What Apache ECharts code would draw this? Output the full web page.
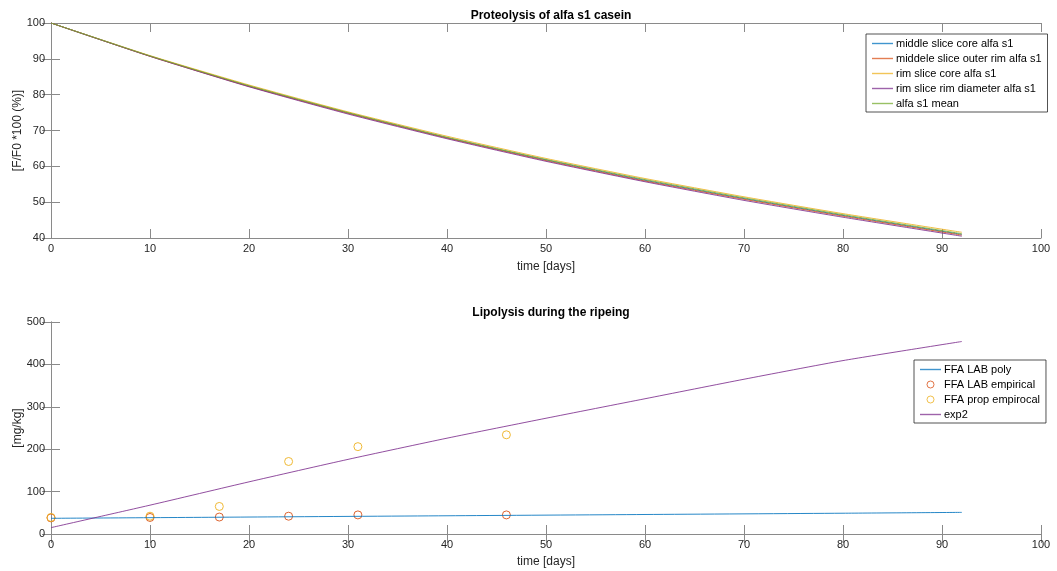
<!DOCTYPE html>
<html>
<head>
<meta charset="utf-8">
<script src="https://cdn.jsdelivr.net/npm/echarts@6/dist/echarts.min.js"></script>
<style>html,body{margin:0;padding:0;background:#fff}#c{width:1057px;height:571px}</style>
</head>
<body>
<div id="c"></div>
<script>
// ---- Top chart: proteolysis of alfa s1 casein ----
const protDays = [0, 10, 20, 30, 40, 50, 60, 70, 80, 92];
const middleCore  = [100, 90.8, 82.4, 74.9, 68.0, 61.8, 56.1, 51.0, 46.3, 41.0];
const middleOuter = [100, 90.7, 82.3, 74.8, 67.9, 61.6, 55.9, 50.8, 46.1, 40.8];
const rimCore     = [100, 90.9, 82.7, 75.2, 68.4, 62.2, 56.6, 51.5, 46.8, 41.6];
const rimDiameter = [100, 90.7, 82.2, 74.6, 67.7, 61.4, 55.7, 50.5, 45.8, 40.5];
const alfaMean    = [100, 90.8, 82.5, 75.0, 68.1, 61.9, 56.3, 51.2, 46.5, 41.2];

// ---- Bottom chart: lipolysis ----
const empDays = [0, 10, 17, 24, 31, 46];
const ffaLabEmp  = [38, 39, 40, 42, 45, 45];
const ffaPropEmp = [39, 42, 65, 171, 206, 234];
const polyDays = [0, 20, 40, 60, 80, 92];
const ffaLabPoly = [37, 40, 43, 46, 49, 51];
const expDays = [0, 10, 20, 30, 40, 50, 60, 70, 80, 92];
const exp2Vals = [15, 68, 123, 176, 226, 273, 319, 365, 409, 454];

const xTicks = [0, 10, 20, 30, 40, 50, 60, 70, 80, 90, 100];

const C = {blue:'#0072BD', red:'#D95319', yellow:'#EDB120', purple:'#7E2F8E', green:'#77AC30'};
const FONT = 'Liberation Sans, Arial, Helvetica, sans-serif';
const AX = '#8a8a8a';
const TXT = '#262626';

function pairs(xs, ys){ return xs.map((x,i)=>[x, ys[i]]); }

function mainX(gi){
  return {gridIndex:gi, type:'value', min:0, max:100, interval:10,
    name:'time [days]', nameLocation:'middle', nameGap:gi===0?23:22, nameMoveOverlap:false,
    nameTextStyle:{color:TXT, fontSize:12, fontFamily:FONT},
    axisLine:{show:true, lineStyle:{color:AX}},
    axisTick:{show:true, inside:true, length:9, lineStyle:{color:AX}},
    axisLabel:{color:TXT, fontSize:11, fontFamily:FONT, margin:5, formatter:v=>xTicks.includes(v)?String(v):''},
    splitLine:{show:false}};
}
function boxX(gi){
  return {gridIndex:gi, type:'value', min:0, max:100, interval:10, position:'top',
    axisLine:{show:true, lineStyle:{color:AX}},
    axisTick:{show:true, inside:true, length:9, lineStyle:{color:AX}},
    axisLabel:{show:false}, splitLine:{show:false}};
}
function mainY(gi, min, max, interval, name, gap){
  return {gridIndex:gi, type:'value', min:min, max:max, interval:interval,
    name:name, nameLocation:'middle', nameGap:gap, nameRotate:90, nameMoveOverlap:false,
    nameTextStyle:{color:TXT, fontSize:12, fontFamily:FONT},
    axisLine:{show:true, lineStyle:{color:AX}},
    axisTick:{show:true, inside:true, length:9, lineStyle:{color:AX}},
    axisLabel:{color:TXT, fontSize:11, fontFamily:FONT, margin:6},
    splitLine:{show:false}};
}
function boxY(gi, min, max, interval){
  return {gridIndex:gi, type:'value', min:min, max:max, interval:interval, position:'right',
    axisLine:{show:true, lineStyle:{color:AX}},
    axisTick:{show:true, inside:true, length:9, lineStyle:{color:AX}},
    axisLabel:{show:false}, splitLine:{show:false}};
}
function lineSeries(name, xs, ys, color, xi, yi){
  return {name:name, type:'line', xAxisIndex:xi, yAxisIndex:yi, data:pairs(xs, ys),
    symbol:'none', smooth:0.2, lineStyle:{color:color, width:1, opacity:0.85}, itemStyle:{color:color},
    emphasis:{disabled:true}, animation:false};
}
function scatterSeries(name, xs, ys, color){
  return {name:name, type:'scatter', xAxisIndex:2, yAxisIndex:2, data:pairs(xs, ys),
    symbol:'circle', symbolSize:8, itemStyle:{color:'rgba(0,0,0,0)', borderColor:color, borderWidth:1, opacity:0.9},
    emphasis:{disabled:true}, animation:false};
}
const LINE_ICON = 'path://M0 0H21V1.4H0Z';
function lineItem(name, color){
  return {name:name, icon:LINE_ICON, itemStyle:{color:color, borderWidth:0, opacity:0.75}};
}
function circItem(name, color){
  return {name:name, icon:'circle', itemStyle:{color:'rgba(0,0,0,0)', borderColor:color, borderWidth:1, opacity:0.8}};
}

const legendCommon = {orient:'vertical', backgroundColor:'#fff', borderColor:'#262626', borderWidth:0.8,
  itemWidth:21, itemHeight:7, itemGap:4, padding:[4,6,3,6], borderRadius:0,
  textStyle:{color:'#000', fontSize:11, fontFamily:FONT, padding:[0,0,0,-2]}, selectedMode:false};

const option = {
  backgroundColor:'#fff',
  animation:false,
  title:[
    {text:'Proteolysis of alfa s1 casein', left:546, top:5, textAlign:'center',
     textStyle:{fontSize:12, fontWeight:'bold', color:'#000', fontFamily:FONT}},
    {text:'Lipolysis during the ripeing', left:546, top:302, textAlign:'center',
     textStyle:{fontSize:12, fontWeight:'bold', color:'#000', fontFamily:FONT}}
  ],
  grid:[
    {left:51, top:23, width:990, height:215, outerBoundsMode:'none', containLabel:false},
    {left:51, top:322, width:990, height:212, outerBoundsMode:'none', containLabel:false}
  ],
  xAxis:[mainX(0), boxX(0), mainX(1), boxX(1)],
  yAxis:[mainY(0, 40, 100, 10, '[F/F0 *100 (%)]', 27), boxY(0, 40, 100, 10),
         mainY(1, 0, 500, 100, '[mg/kg]', 27), boxY(1, 0, 500, 100)],
  legend:[
    Object.assign({}, legendCommon, {left:866, top:34, width:170,
      data:[lineItem('middle slice core alfa s1', C.blue), lineItem('middele slice outer rim alfa s1', C.red),
            lineItem('rim slice core alfa s1', C.yellow), lineItem('rim slice rim diameter alfa s1', C.purple),
            lineItem('alfa s1 mean', C.green)]}),
    Object.assign({}, legendCommon, {left:914, top:360, width:125,
      data:[lineItem('FFA LAB poly', C.blue), circItem('FFA LAB empirical', C.red),
            circItem('FFA prop empirocal', C.yellow), lineItem('exp2', C.purple)]})
  ],
  series:[
    lineSeries('middle slice core alfa s1', protDays, middleCore, C.blue, 0, 0),
    lineSeries('middele slice outer rim alfa s1', protDays, middleOuter, C.red, 0, 0),
    lineSeries('rim slice core alfa s1', protDays, rimCore, C.yellow, 0, 0),
    lineSeries('rim slice rim diameter alfa s1', protDays, rimDiameter, C.purple, 0, 0),
    lineSeries('alfa s1 mean', protDays, alfaMean, C.green, 0, 0),
    lineSeries('FFA LAB poly', polyDays, ffaLabPoly, C.blue, 2, 2),
    scatterSeries('FFA LAB empirical', empDays, ffaLabEmp, C.red),
    scatterSeries('FFA prop empirocal', empDays, ffaPropEmp, C.yellow),
    lineSeries('exp2', expDays, exp2Vals, C.purple, 2, 2)
  ]
};
const chart = echarts.init(document.getElementById('c'), null, {renderer:'canvas'});
chart.setOption(option);
</script>
</body>
</html>
